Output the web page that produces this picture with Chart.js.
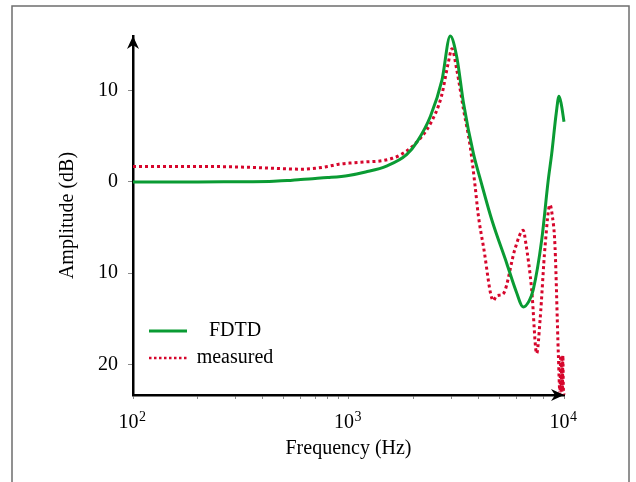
<!DOCTYPE html>
<html>
<head>
<meta charset="utf-8">
<script src="https://cdn.jsdelivr.net/npm/chart.js@4.4.1/dist/chart.umd.min.js"></script>
<style>
  html, body { margin: 0; padding: 0; background: #fff; }
  canvas { display: block; }
</style>
</head>
<body>
<canvas id="chart" width="636" height="482"></canvas>
<script>
// FDTD simulation (Hz, dB)
var fdtdFreq = [100, 150, 200, 300, 360, 450, 520, 600, 700, 800, 1000, 1200, 1500, 1860, 2080, 2400, 2716, 2965, 3180, 3420, 3800, 4100, 4630, 5420, 6000, 6470, 6900, 7200, 7875, 8450, 8770, 9200, 9480, 9700, 10000];
var fdtdAmp = [0, 0, 0, 0.02, 0.03, 0.08, 0.15, 0.28, 0.38, 0.48, 0.72, 1.1, 1.75, 3.0, 4.4, 7.2, 11.2, 16.0, 13.7, 8.6, 3.1, 0.2, -4.2, -8.9, -12.0, -13.7, -13.0, -11.8, -6.4, 0.2, 3.1, 7.5, 9.4, 8.6, 6.6];

// measured response (Hz, dB)
var measFreq = [100, 200, 300, 400, 500, 600, 700, 800, 900, 1050, 1200, 1400, 1600, 1750, 2000, 2400, 2700, 2900, 3020, 3180, 3420, 3670, 3870, 4000, 4230, 4700, 4850, 5055, 5250, 5930, 6470, 6650, 7080, 7470, 7745, 8166, 8610, 8800, 9085, 9411, 9580, 9650, 9700, 9760, 9820, 9880, 9930, 10000];
var measAmp = [1.7, 1.7, 1.65, 1.55, 1.45, 1.4, 1.5, 1.7, 1.95, 2.1, 2.2, 2.3, 2.6, 3.0, 4.0, 6.4, 9.4, 13.0, 14.6, 12.3, 7.9, 3.9, -0.5, -3.6, -7.1, -13.0, -12.5, -12.4, -12.2, -7.3, -5.3, -6.7, -11.8, -18.8, -15.1, -7.1, -2.5, -3.5, -7.1, -18.8, -23.2, -19.0, -23.0, -19.5, -23.0, -19.0, -22.5, -23.3];

var seriesLabels = ['FDTD', 'measured'];

var xTicks = [100, 200, 300, 400, 500, 600, 700, 800, 900, 1000, 2000, 3000, 4000, 5000, 6000, 7000, 8000, 9000, 10000];
var xMajor = [100, 1000, 10000];
var xMajorExp = ['2', '3', '4'];
var yTicks = [-20, -10, 0, 10];
var yTickLabels = ['20', '10', '0', '10'];

function toPoints(xs, ys) {
    return xs.map(function (x, i) { return { x: x, y: ys[i] }; });
}

var green = '#0a9b33';
var red = '#d6062c';
var serif = '"Liberation Serif", "DejaVu Serif", serif';

new Chart(document.getElementById('chart'), {
    type: 'line',
    data: {
        datasets: [{
            label: seriesLabels[0],
            data: toPoints(fdtdFreq, fdtdAmp),
            borderColor: green,
            borderWidth: 3,
            pointRadius: 0,
            cubicInterpolationMode: 'monotone',
            clip: false
        }, {
            label: seriesLabels[1],
            data: toPoints(measFreq, measAmp),
            borderColor: red,
            borderWidth: 3,
            borderDash: [3, 3],
            pointRadius: 0,
            cubicInterpolationMode: 'monotone',
            clip: false
        }]
    },
    options: {
        responsive: false,
        animation: false,
        layout: { padding: { left: 0, top: 36, right: 72, bottom: 0 } },
        plugins: {
            legend: { display: false },
            tooltip: { enabled: false }
        },
        scales: {
            x: {
                type: 'logarithmic',
                min: 100,
                max: 10000,
                afterBuildTicks: function (scale) {
                    scale.ticks = xTicks.map(function (v) { return { value: v }; });
                },
                afterFit: function (scale) { scale.height = 87; },
                border: { display: true, color: '#000', width: 2.5 },
                grid: { drawOnChartArea: false, drawTicks: true, tickLength: 4, color: '#8a8a8a', lineWidth: 1 },
                ticks: {
                    autoSkip: false,
                    maxRotation: 0,
                    padding: 8,
                    font: { family: serif, size: 20 },
                    callback: function () { return ''; }
                },
                title: {
                    display: true,
                    text: 'Frequency (Hz)',
                    color: '#000',
                    font: { family: serif, size: 20 },
                    padding: { top: 4, bottom: 21 }
                }
            },
            y: {
                min: -23.35,
                max: 16.0,
                afterBuildTicks: function (scale) {
                    scale.ticks = yTicks.map(function (v) { return { value: v }; });
                },
                afterFit: function (scale) { scale.width = 133; },
                border: { display: true, color: '#000', width: 2.5 },
                grid: { drawOnChartArea: false, drawTicks: true, tickLength: 5, color: '#8a8a8a', lineWidth: 1 },
                ticks: {
                    padding: 10,
                    color: '#000',
                    font: { family: serif, size: 20 },
                    callback: function (value) {
                        var i = yTicks.indexOf(value);
                        return i >= 0 ? yTickLabels[i] : '';
                    }
                },
                title: {
                    display: true,
                    text: 'Amplitude (dB)',
                    color: '#000',
                    font: { family: serif, size: 20 },
                    padding: { top: 56, bottom: 0 }
                }
            }
        }
    },
    plugins: [{
        id: 'frameAndLegend',
        beforeDraw: function (chart) {
            var ctx = chart.ctx;
            ctx.save();
            ctx.fillStyle = '#fff';
            ctx.fillRect(0, 0, chart.width, chart.height);
            ctx.strokeStyle = '#6e6e6e';
            ctx.lineWidth = 1.5;
            ctx.strokeRect(12, 6, 617, 500);
            ctx.restore();
        },
        afterDraw: function (chart) {
            var ctx = chart.ctx;
            var a = chart.chartArea;
            ctx.save();
            ctx.fillStyle = '#000';
            // y axis arrow
            ctx.beginPath();
            ctx.moveTo(a.left, a.top);
            ctx.lineTo(a.left - 6, a.top + 13);
            ctx.lineTo(a.left, a.top + 9);
            ctx.lineTo(a.left + 6, a.top + 13);
            ctx.closePath();
            ctx.fill();
            // x axis arrow
            ctx.beginPath();
            ctx.moveTo(a.right, a.bottom);
            ctx.lineTo(a.right - 13, a.bottom - 6);
            ctx.lineTo(a.right - 9, a.bottom);
            ctx.lineTo(a.right - 13, a.bottom + 6);
            ctx.closePath();
            ctx.fill();

            // x tick labels with superscript exponents
            var xs = chart.scales.x;
            ctx.fillStyle = '#000';
            ctx.textBaseline = 'alphabetic';
            ctx.textAlign = 'left';
            xMajor.forEach(function (v, i) {
                var px = xs.getPixelForValue(v);
                ctx.font = '20px ' + serif;
                var wb = ctx.measureText('10').width;
                ctx.font = '14px ' + serif;
                var we = ctx.measureText(xMajorExp[i]).width;
                var x0 = px - 1 - (wb + we) / 2;
                ctx.font = '20px ' + serif;
                ctx.fillText('10', x0, 428);
                ctx.font = '14px ' + serif;
                ctx.fillText(xMajorExp[i], x0 + wb + 0.5, 421);
            });

            // legend
            var rows = [{ y: 331, ds: chart.data.datasets[0] }, { y: 358, ds: chart.data.datasets[1] }];
            rows.forEach(function (r) {
                ctx.beginPath();
                ctx.strokeStyle = r.ds.borderColor;
                ctx.lineWidth = r.ds.borderWidth === 3 && r.ds.borderDash ? 2.5 : r.ds.borderWidth;
                ctx.setLineDash(r.ds.borderDash ? [2.5, 2.5] : []);
                ctx.moveTo(149, r.y);
                ctx.lineTo(187, r.y);
                ctx.stroke();
                ctx.setLineDash([]);
                ctx.fillStyle = '#000';
                ctx.font = '20px ' + serif;
                ctx.textAlign = 'center';
                ctx.textBaseline = 'middle';
                ctx.fillText(r.ds.label, 235, r.y);
            });
            ctx.restore();
        }
    }]
});
</script>
</body>
</html>
